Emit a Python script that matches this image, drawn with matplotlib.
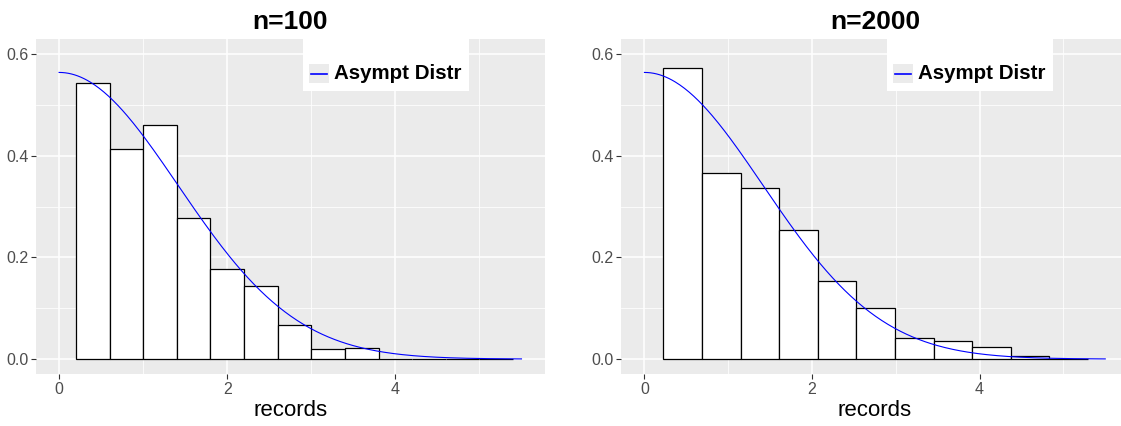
import numpy as np
import matplotlib
matplotlib.use("Agg")
import matplotlib.pyplot as plt
from matplotlib.patches import Rectangle
from matplotlib.lines import Line2D

plt.rcParams['font.family'] = ['Liberation Sans', 'DejaVu Sans']

# histogram densities
titles = ["n=100", "n=2000"]
left_start = 0.2
left_width = 0.4
left_dens = [0.543, 0.414, 0.461, 0.278, 0.177, 0.143, 0.068, 0.020, 0.021,
             0.0, 0.0, 0.0, 0.0]
right_start = 0.226
right_width = 0.4606
right_dens = [0.572, 0.366, 0.336, 0.254, 0.154, 0.101, 0.041, 0.035, 0.024,
              0.006, 0.0]
curve_max_x = 5.5
legend_label = "Asympt Distr"
x_label = "records"

panels = [(left_start, left_width, left_dens), (right_start, right_width, right_dens)]

W, H = 1121, 426
fig = plt.figure(figsize=(W / 100, H / 100), dpi=100)

# panel boxes in pixels: left, top, right, bottom
boxes = [(36, 39, 544.6, 374.3), (621.4, 39, 1128.3, 374.3)]

# asymptotic density (half normal, sd sqrt(2))
xs = np.linspace(0, curve_max_x, 300)
ys = np.exp(-xs ** 2 / 4) / np.sqrt(np.pi)

for (l, t, r, b), title, (start, width, dens) in zip(boxes, titles, panels):
    ax = fig.add_axes([l / W, (H - b) / H, (r - l) / W, (b - t) / H])
    ax.set_facecolor('#EBEBEB')
    for s in ax.spines.values():
        s.set_visible(False)

    edges = start + width * np.arange(len(dens))
    ax.bar(edges, dens, width=width, align='edge', facecolor='white',
           edgecolor='black', linewidth=0.9, zorder=2)
    ax.plot(xs, ys, color='blue', linewidth=0.8, zorder=3)

    ax.set_xlim(-0.275, 5.775)
    ax.set_ylim(-0.03, 0.63)
    ax.set_xticks([0, 2, 4])
    ax.set_xticks([1, 3, 5], minor=True)
    ax.set_yticks([0.0, 0.2, 0.4, 0.6])
    ax.set_yticks([0.1, 0.3, 0.5], minor=True)
    ax.set_yticklabels(["0.0", "0.2", "0.4", "0.6"])
    ax.grid(which='major', color='white', linewidth=1.1, zorder=0)
    ax.grid(which='minor', color='white', linewidth=0.55, zorder=0)
    ax.set_axisbelow(True)
    ax.tick_params(which='major', length=3.5, width=0.8, color='#333333',
                   labelcolor='#4D4D4D', labelsize=11.5, pad=2)
    ax.tick_params(which='minor', length=0)

    ax.set_title(title, fontsize=19, fontweight='bold', pad=7)
    ax.set_xlabel(x_label, fontsize=16, labelpad=2)

    # legend box drawn like ggplot's (white background, grey key)
    ax.add_patch(Rectangle((0.524, 0.845), 0.327, 0.155, transform=ax.transAxes,
                           facecolor='white', edgecolor='none', zorder=4))
    pw = r - l
    ph = b - t
    kx0 = (309 - 36) / 508.6
    ax.add_patch(Rectangle((kx0, (374.3 - 83.3) / ph), 19.7 / pw, 19.3 / ph,
                           transform=ax.transAxes, facecolor='#EBEBEB',
                           edgecolor='none', zorder=5))
    ky = (374.3 - 73.7) / ph
    ax.add_line(Line2D([kx0 + 2 / pw, kx0 + 17.7 / pw], [ky, ky], transform=ax.transAxes,
                       color='blue', linewidth=1.2, zorder=6))
    ax.text((334 - 36) / 508.6, ky, legend_label, transform=ax.transAxes,
            fontsize=14.8, fontweight='bold', va='center', ha='left', zorder=6)

fig.savefig("out.png", dpi=100)
